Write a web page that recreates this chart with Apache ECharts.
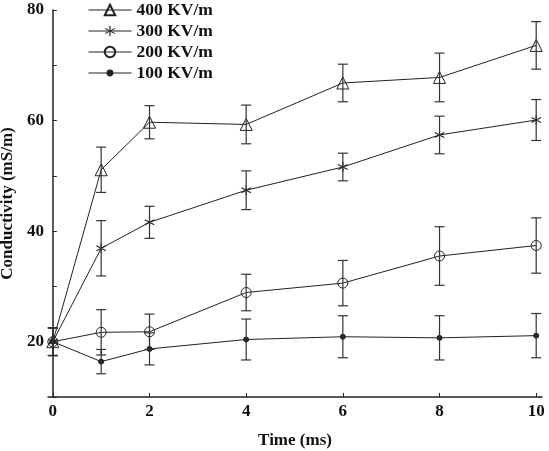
<!DOCTYPE html>
<html>
<head>
  <meta charset="utf-8">
  <style>
    html, body { margin: 0; height: 100%; background: #fff; }
    #container { width: 549px; height: 451px; }
  </style>
</head>
<body>
  <div id="container"></div>
  <script src="https://cdn.jsdelivr.net/npm/echarts@6/dist/echarts.min.js"></script>
  <script>
    // data
    var times = [0, 1, 2, 4, 6, 8, 10];
    var names = ['400 KV/m', '300 KV/m', '200 KV/m', '100 KV/m'];
    var s400 = [20.0, 51.1, 59.7, 59.3, 66.8, 67.8, 73.6];
    var e400 = [2.5, 4.1, 3.0, 3.5, 3.4, 4.4, 4.3];
    var s300 = [20.0, 36.9, 41.6, 47.4, 51.6, 57.4, 60.1];
    var e300 = [2.5, 5.0, 2.9, 3.5, 2.5, 3.4, 3.7];
    var s200 = [20.0, 21.7, 21.8, 28.9, 30.6, 35.5, 37.4];
    var e200 = [2.5, 4.1, 3.2, 3.3, 4.1, 5.3, 5.0];
    var s100 = [20.0, 16.4, 18.7, 20.4, 20.9, 20.7, 21.1];
    var e100 = [2.5, 2.2, 2.9, 3.7, 3.8, 4.0, 4.0];
    var xTicks = [0, 2, 4, 6, 8, 10];

    var font = 'Liberation Serif';
    var ink = '#222';
    var asterisk = 'path://M1,10L-1,10L-1,-10L1,-10Z' +
      'M8.16,5.866L9.16,4.134L-8.16,-5.866L-9.16,-4.134Z' +
      'M-8.16,5.866L-9.16,4.134L8.16,-5.866L9.16,-4.134Z';

    var values = [s400, s300, s200, s100];
    var errors = [e400, e300, e200, e100];
    var symbols = ['triangle', asterisk, 'circle', 'circle'];
    var sizes = [12, 10, 10, 5];
    var fills = ['transparent', ink, 'transparent', ink];

    function pairs(v) {
      return times.map(function (t, i) { return [t, v[i]]; });
    }
    function bars(v, e) {
      return times.map(function (t, i) { return [t, v[i] - e[i], v[i] + e[i]]; });
    }

    function renderBar(params, api) {
      var top = api.coord([api.value(0), api.value(2)]);
      var bot = api.coord([api.value(0), api.value(1)]);
      var w = 5;
      var st = { stroke: '#333', lineWidth: 1.2 };
      return {
        type: 'group',
        children: [
          { type: 'line', shape: { x1: top[0], y1: top[1], x2: bot[0], y2: bot[1] }, style: st },
          { type: 'line', shape: { x1: top[0] - w, y1: top[1], x2: top[0] + w, y2: top[1] }, style: st },
          { type: 'line', shape: { x1: bot[0] - w, y1: bot[1], x2: bot[0] + w, y2: bot[1] }, style: st }
        ]
      };
    }

    var series = [];
    names.forEach(function (n, k) {
      series.push({
        name: n,
        type: 'line',
        data: pairs(values[k]),
        symbol: symbols[k],
        symbolSize: sizes[k],
        showAllSymbol: true,
        lineStyle: { color: ink, width: 1 },
        itemStyle: { color: fills[k], borderColor: ink, borderWidth: k === 1 ? 0 : 1 },
        emphasis: { disabled: true },
        z: 3
      });
    });
    names.forEach(function (n, k) {
      series.push({
        type: 'custom',
        data: bars(values[k], errors[k]),
        renderItem: renderBar,
        encode: { x: 0, y: [1, 2] },
        silent: true,
        z: 4
      });
    });

    var legendText = { fontFamily: font, fontWeight: 'bold', fontSize: 17.5, color: '#111', lineHeight: 17 };

    var chart = echarts.init(document.getElementById('container'));
    chart.setOption({
      animation: false,
      backgroundColor: '#fff',
      legend: [{
        data: names.slice(0, 3),
        orient: 'vertical',
        left: 88,
        top: 1,
        padding: 0,
        itemWidth: 43,
        itemHeight: 13,
        itemGap: 3,
        lineStyle: { width: 1 },
        textStyle: legendText
      }, {
        data: names.slice(3),
        orient: 'vertical',
        left: 88,
        top: 64,
        padding: 0,
        itemWidth: 43,
        itemHeight: 6,
        lineStyle: { width: 1 },
        textStyle: legendText
      }],
      grid: { left: 48, right: 7, top: 10, bottom: 54, outerBoundsMode: 'none', containLabel: false },
      xAxis: {
        type: 'value',
        min: -0.1,
        max: 10.12,
        name: 'Time (ms)',
        nameLocation: 'middle',
        nameGap: 35,
        nameTextStyle: { fontFamily: font, fontWeight: 'bold', fontSize: 17, color: '#111' },
        axisLine: { lineStyle: { color: '#222', width: 1.5 } },
        axisTick: { inside: true, length: 4, customValues: xTicks, lineStyle: { color: '#222' } },
        axisLabel: { customValues: xTicks, margin: 6, fontFamily: font, fontWeight: 'bold', fontSize: 17, color: '#111' },
        splitLine: { show: false }
      },
      yAxis: {
        type: 'value',
        min: 10,
        max: 80,
        interval: 10,
        name: 'Conductivity (mS/m)',
        nameLocation: 'middle',
        nameGap: 26,
        nameTextStyle: { fontFamily: font, fontWeight: 'bold', fontSize: 17, color: '#111' },
        axisLine: { show: true, lineStyle: { color: '#222', width: 1.5 } },
        axisTick: { show: true, inside: true, length: 4, lineStyle: { color: '#222' } },
        axisLabel: {
          margin: 4,
          fontFamily: font, fontWeight: 'bold', fontSize: 17, color: '#111',
          formatter: function (v) { return v % 20 === 0 ? String(v) : ''; }
        },
        splitLine: { show: false }
      },
      series: series
    });
  </script>
</body>
</html>
